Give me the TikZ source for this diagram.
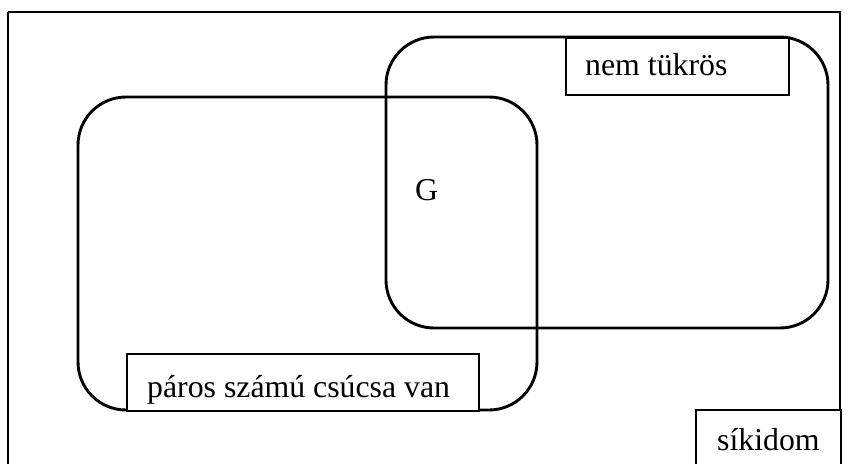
\documentclass[tikz,border=0pt]{standalone}
\usepackage{fontspec}
\setmainfont{Liberation Serif}
\begin{document}
\begin{tikzpicture}[x=1pt,y=-1pt,
  setbox/.style={draw=black, line width=2.9pt, rounded corners=48pt},
  labelbox/.style={draw=black, line width=2pt, fill=white, anchor=north west, inner sep=0pt},
  lbl/.style={font=\fontsize{31.8}{36}\selectfont, anchor=base west, inner sep=0pt}]
\useasboundingbox (0,0) rectangle (848,463);
\clip (0,0) rectangle (848,463);
\fill[white] (0,0) rectangle (848,463);
% outer frame
\draw[line width=2.5pt] (8,12) -- (8,480) (8,12) -- (840,12) -- (840,480);
% sets
\draw[setbox] (78,97) rectangle (537,410);
\draw[setbox] (386,37) rectangle (828,328);
% label boxes
\node[labelbox, minimum width=223pt, minimum height=57pt] (nt) at (565,37) {};
\node[lbl] (ntl) at (585,75) {nem tükrös};
\node[labelbox, minimum width=352pt, minimum height=57pt] (ps) at (126,353) {};
\node[lbl] (psl) at (147,397) {páros számú csúcsa van};
\node[labelbox, minimum width=145pt, minimum height=80pt] (sk) at (695,409) {};
\node[lbl] (skl) at (717,450) {síkidom};
\node[lbl] (g) at (415,200) {G};
\end{tikzpicture}
\end{document}
